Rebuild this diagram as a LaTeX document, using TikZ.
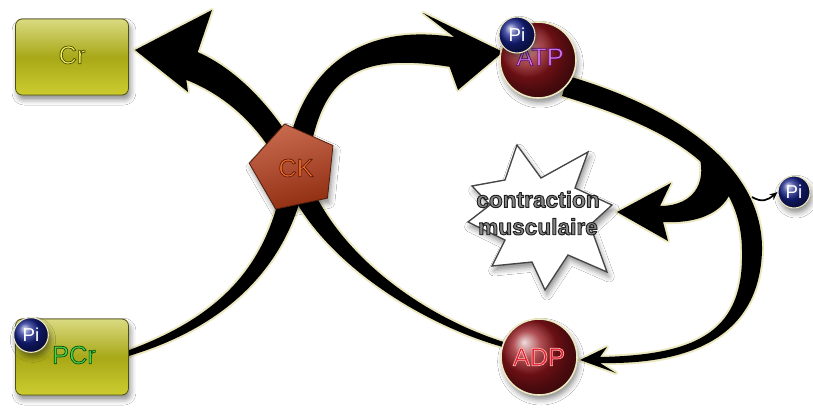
\documentclass[tikz,border=0pt]{standalone}
\usepackage{fontspec}
\setmainfont{Liberation Sans}
\usetikzlibrary{shapes.geometric,shadows.blur,arrows.meta}
\definecolor{halo}{RGB}{236,232,192}
\definecolor{boxtop}{RGB}{218,218,130}
\definecolor{boxmid}{RGB}{168,168,24}
\definecolor{boxbot}{RGB}{204,204,48}
\definecolor{boxline}{RGB}{80,80,16}
\definecolor{ballred}{RGB}{150,22,28}
\definecolor{ballblue}{RGB}{22,34,140}
\definecolor{cktop}{RGB}{200,106,78}
\definecolor{ckbot}{RGB}{145,46,18}
\definecolor{ckline}{RGB}{80,30,10}
\definecolor{crfill}{RGB}{240,240,90}
\definecolor{pcrfill}{RGB}{70,215,70}
\definecolor{atpfill}{RGB}{215,120,245}
\definecolor{adpfill}{RGB}{225,30,45}
\definecolor{ckfill}{RGB}{240,105,40}
\definecolor{contrfill}{RGB}{135,135,135}
\definecolor{starline}{RGB}{70,70,70}
% outlined text: fill colour, stroke colour as "r g b", line width (bp), text
\newcommand\outl[4]{\textcolor{#1}{\special{pdf:literal direct #2 RG #3 w 1 j 2 Tr}#4\special{pdf:literal direct 0 Tr}}}
\newcommand\pathPCr{(126,351.2) .. controls (228.1,314.3) and (270.1,258.6) .. (284.1,173.5)
  .. controls (292.1,83.2) and (347.4,20.2) .. (454.4,37.2)
  -- (423,13) -- (503,52) -- (458,90) -- (449.6,66.8)
  .. controls (342.6,49.8) and (317.9,86.8) .. (305.9,176.5)
  .. controls (289.9,261.4) and (231.9,325.7) .. (126,356.8) -- cycle}
\newcommand\pathADP{(504.3,347.4) .. controls (418.9,323.8) and (316.5,258.1) .. (284.7,178.7)
  .. controls (271.7,144.1) and (239.6,100.9) .. (186.3,79.9)
  -- (188,92) -- (135,50) -- (212,10) -- (197.7,52.1)
  .. controls (250.4,75.1) and (294.3,135.9) .. (305.3,171.3)
  .. controls (333.5,251.9) and (421.1,316.2) .. (505.7,342.6) -- cycle}
\newcommand\pathLoop{(568,76) .. controls (683.4,110) and (763,170) .. (762,250)
  .. controls (760,330) and (700,365) .. (600,363)
  -- (616,373) -- (580,360) -- (607,347) -- (600,357)
  .. controls (700,355) and (744,330) .. (742,250)
  .. controls (741,172) and (676.6,130) .. (562,96) -- cycle}
\newcommand\pathBranch{(694,142) .. controls (712,180) and (695,206) .. (660,206)
  -- (671,183) -- (617,212) -- (668,241) -- (663,222)
  .. controls (705,224) and (728,208) .. (733,185) -- cycle}
\tikzset{
  glow/.style={draw=halo, line width=3pt, line join=round},
  arrowfill/.style={fill=black},
  softshadow/.style={blur shadow={shadow xshift=1.5pt, shadow yshift=-3.5pt, shadow blur radius=4pt, shadow opacity=45}},
  molbox/.style={rectangle, rounded corners=5pt, minimum width=84.75pt, minimum height=57pt,
     draw=boxline, line width=0.6pt, top color=boxtop, bottom color=boxbot, middle color=boxmid, softshadow},
  molball/.style={circle, minimum size=57pt, inner sep=0pt, draw=halo, line width=1.2pt, ball color=ballred, softshadow},
  piball/.style={circle, inner sep=0pt, draw=halo, line width=0.8pt, ball color=ballblue, text=white,
     font=\fontsize{14}{14}\selectfont, softshadow},
  ckshape/.style={regular polygon, regular polygon sides=5, shape border rotate=12, minimum size=67.5pt,
     inner sep=0pt, draw=ckline, line width=0.6pt, shading=axis, top color=cktop, bottom color=ckbot,
     shading angle=15, softshadow},
  bigtxt/.style={font=\fontsize{19}{20}\selectfont}
}
\begin{document}
\begin{tikzpicture}[x=0.75pt,y=-0.75pt]
\useasboundingbox[fill=white] (0,0) rectangle (813,408);

% glow pass, then fill pass
\path[glow] \pathPCr;
\path[glow] \pathADP;
\path[glow] \pathLoop;
\path[glow] \pathBranch;
\path[arrowfill] \pathPCr;
\path[arrowfill] \pathADP;
\path[arrowfill] \pathLoop;
\path[arrowfill] \pathBranch;

% starburst
\path[fill=white, draw=starline, line width=1pt, line join=miter, softshadow]
  (517,145) -- (541,178) -- (588,152) -- (575,188) -- (612,205) -- (590,225)
  -- (607,272) -- (568,255) -- (545,290) -- (532,262) -- (492,266) -- (505,240)
  -- (468,222) -- (490,205) -- (472,186) -- (505,180) -- cycle;
\node (contr) at (538,213) [align=center, font=\bfseries\fontsize{17}{20.5}\selectfont]
  {\outl{contrfill}{0.12 0.12 0.12}{0.7}{contraction}\\\outl{contrfill}{0.12 0.12 0.12}{0.7}{musculaire}};

% nodes
\node[molbox] (cr) at (72,57) {};
\node[bigtxt] (crtxt) at (72,55) {\outl{crfill}{0.28 0.28 0}{0.5}{Cr}};
\node[molbox] (pcr) at (72,357) {};
\node[bigtxt] (pcrtxt) at (74,355) {\outl{pcrfill}{0.04 0.28 0.04}{0.5}{PCr}};
\node[piball, minimum size=26pt] (pi1) at (31,335) {Pi};

\node[ckshape] (ck) at (294,168) {};
\node[bigtxt] (cktxt) at (296,168) {\outl{ckfill}{0.35 0.1 0.02}{0.5}{CK}};

\node[molball] (atp) at (538,60) {};
\node[bigtxt] (atptxt) at (540,57) {\outl{atpfill}{0.32 0.06 0.38}{0.5}{ATP}};
\node[piball, minimum size=27pt] (pi2) at (517,35) {Pi};

\node[molball] (adp) at (539,357) {};
\node[bigtxt] (adptxt) at (539,357) {\outl{adpfill}{1 0.7 0.7}{0.5}{ADP}};

\node[piball, minimum size=24pt] (pi3) at (794,192) {Pi};
\coordinate (pistart) at (752,197);
\draw[line width=1.3pt, -{Stealth[length=6pt,width=5pt]}] (pistart) .. controls (762,203) and (768,200) .. (pi3.west);
\end{tikzpicture}
\end{document}
